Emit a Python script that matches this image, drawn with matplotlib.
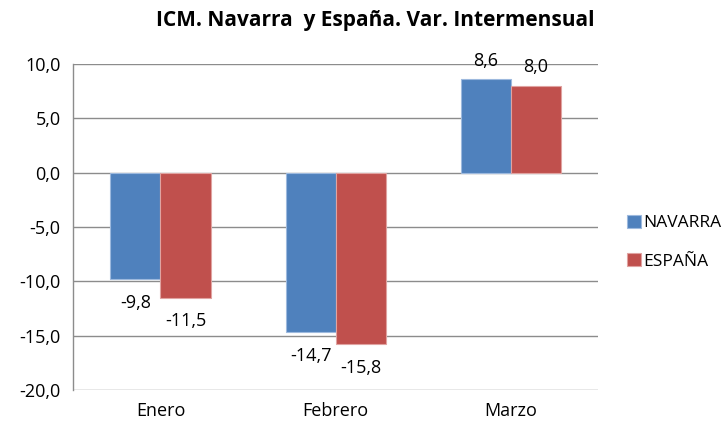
import numpy as np
import matplotlib.pyplot as plt

plt.rcParams['font.family'] = ['Open Sans', 'DejaVu Sans']

meses = ['Enero', 'Febrero', 'Marzo']
navarra = [-9.8, -14.7, 8.6]
espana = [-11.5, -15.8, 8.0]
ticks = [-20, -15, -10, -5, 0, 5, 10]

azul = '#4F81BD'
rojo = '#C0504D'

fig = plt.figure(figsize=(7.27, 4.25), dpi=100)
ax = fig.add_axes([0.1004, 0.0824, 0.7222, 0.7666])

x = np.arange(len(meses))
w = 50 / 175  # ancho de barra relativo a la categoria

b1 = ax.bar(x - w / 2, navarra, w, color=azul, edgecolor='#9DB9DE', linewidth=0.8,
            label='NAVARRA', zorder=3)
b2 = ax.bar(x + w / 2, espana, w, color=rojo, edgecolor='#E0A3A1', linewidth=0.8,
            label='ESPAÑA', zorder=3)

# etiquetas de datos
for barras, vals in [(b1, navarra), (b2, espana)]:
    for r, v in zip(barras, vals):
        off = 13.5 if v > 0 else -17
        ax.annotate(f'{v:.1f}'.replace('.', ','), (r.get_x() + r.get_width() / 2, v),
                    xytext=(0, off), textcoords='offset points',
                    ha='center', va='center', fontsize=13)

ax.set_xlim(-0.5, 2.5)
ax.set_ylim(-20, 10)
ax.set_yticks(ticks)
ax.set_yticklabels([f'{t:.1f}'.replace('.', ',') for t in ticks], fontsize=13)
ax.set_xticks(x)
ax.set_xticklabels(meses, fontsize=13)
ax.tick_params(axis='y', length=0, pad=9)
ax.tick_params(axis='x', length=0, pad=9)
ax.grid(axis='y', color='#8C8C8C', linewidth=1, zorder=0)

for s in ['top', 'right', 'bottom']:
    ax.spines[s].set_visible(False)
ax.spines['left'].set_color('#8C8C8C')
ax.spines['left'].set_linewidth(1)

fig.text(0.516, 0.952, 'ICM. Navarra  y España. Var. Intermensual', ha='center',
         va='center', fontsize=15, fontweight='bold')

fig.legend(handles=[b1, b2], loc='center left', bbox_to_anchor=(0.862, 0.43),
           frameon=False, fontsize=12.5, handlelength=0.8, handleheight=0.8,
           handletextpad=0.15, labelspacing=1.25, borderpad=0, borderaxespad=0)

fig.savefig('out.png', dpi=100)
